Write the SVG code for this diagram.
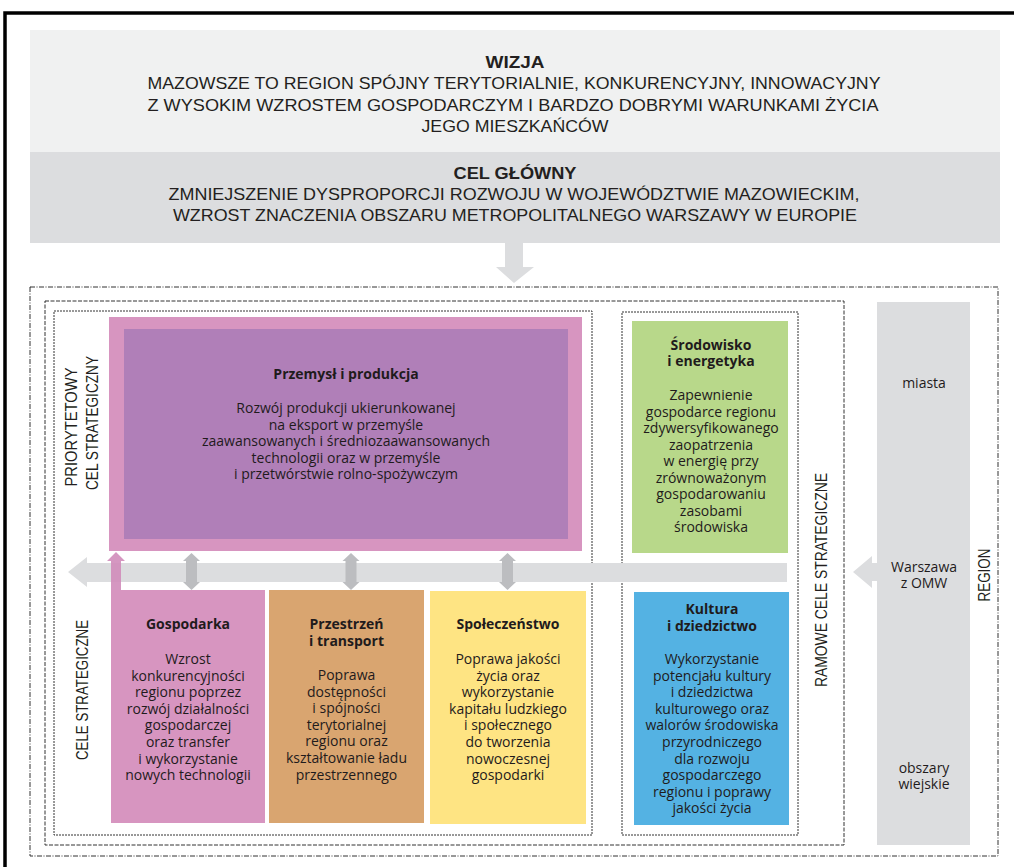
<svg xmlns="http://www.w3.org/2000/svg" width="1014" height="867" viewBox="0 0 1014 867">
<style>
.hd{font-family:"Liberation Sans","DejaVu Sans",sans-serif;font-size:17px;fill:#231f20;text-anchor:middle}
.hdb{font-weight:700}
.vt{font-family:"Liberation Sans","DejaVu Sans",sans-serif;font-size:16px;fill:#231f20;text-anchor:middle}
.bx{font-family:"Open Sans","Noto Sans",sans-serif;font-size:14px;fill:#1f1b1c;text-anchor:middle}
.tt{font-weight:700}
.dash{fill:none;stroke:#333333;stroke-width:1}
.band{fill:#dcdddf}
.dbl{fill:#bcbdc0}
</style>
<rect x="0" y="0" width="1014" height="867" fill="#ffffff"/>
<g id="frame">
<path d="M5,867 V13 H1014" fill="none" stroke="#000" stroke-width="3.5"/>
</g>
<g id="wizja">
<rect x="30" y="30" width="970" height="122" fill="#f0f1f1"/>
<text class="hd hdb" x="515" y="68" textLength="59" lengthAdjust="spacingAndGlyphs">WIZJA</text>
<text class="hd" x="514" y="89" textLength="733" lengthAdjust="spacingAndGlyphs">MAZOWSZE TO REGION SPÓJNY TERYTORIALNIE, KONKURENCYJNY, INNOWACYJNY</text>
<text class="hd" x="513" y="111" textLength="731" lengthAdjust="spacingAndGlyphs">Z WYSOKIM WZROSTEM GOSPODARCZYM I BARDZO DOBRYMI WARUNKAMI ŻYCIA</text>
<text class="hd" x="515" y="132" textLength="187" lengthAdjust="spacingAndGlyphs">JEGO MIESZKAŃCÓW</text>
</g>
<g id="cel-glowny">
<rect x="30" y="152" width="970" height="91" fill="#dcdddf"/>
<text class="hd hdb" x="515" y="179" textLength="123" lengthAdjust="spacingAndGlyphs">CEL GŁÓWNY</text>
<text class="hd" x="514" y="200" textLength="691" lengthAdjust="spacingAndGlyphs">ZMNIEJSZENIE DYSPROPORCJI ROZWOJU W WOJEWÓDZTWIE MAZOWIECKIM,</text>
<text class="hd" x="515" y="221" textLength="684" lengthAdjust="spacingAndGlyphs">WZROST ZNACZENIA OBSZARU METROPOLITALNEGO WARSZAWY W EUROPIE</text>
</g>
<g id="borders">
<rect class="dash" x="30" y="287" width="968" height="569" stroke-dasharray="5 1.5 1 1.5"/>
<rect class="dash" x="45" y="301" width="799" height="544" stroke-dasharray="4 1.5"/>
<rect class="dash" x="54" y="311" width="538" height="524" stroke-dasharray="2 1"/>
<rect class="dash" x="622" y="312" width="176" height="523" stroke-dasharray="2 1"/>
</g>
<g id="region-bar">
<rect x="877" y="302" width="93" height="543" fill="#dcdddf"/>
<text class="bx" x="924" y="388">miasta</text>
<text class="bx" x="924" y="572">Warszawa</text>
<text class="bx" x="924" y="588">z OMW</text>
<text class="bx" x="924" y="773">obszary</text>
<text class="bx" x="924" y="789">wiejskie</text>
</g>
<g id="labels">
<text class="vt" transform="translate(77,427) rotate(-90)" textLength="119" lengthAdjust="spacingAndGlyphs">PRIORYTETOWY</text>
<text class="vt" transform="translate(98,423) rotate(-90)" textLength="134" lengthAdjust="spacingAndGlyphs">CEL STRATEGICZNY</text>
<text class="vt" transform="translate(88,690) rotate(-90)" textLength="140" lengthAdjust="spacingAndGlyphs">CELE STRATEGICZNE</text>
<text class="vt" transform="translate(827,580) rotate(-90)" textLength="214" lengthAdjust="spacingAndGlyphs">RAMOWE CELE STRATEGICZNE</text>
<text class="vt" transform="translate(990,575) rotate(-90)" textLength="53" lengthAdjust="spacingAndGlyphs">REGION</text>
</g>
<g id="connectors">
<path d="M505,243 H523 V267 H534 L514,283 L496,267 H505 Z" class="band"/>
<path d="M68,572 L87,557 V563 H787 V582 H87 V587 Z" class="band"/>
<path d="M853,572 L872,556 V563 H878 V581 H872 V588 Z" class="band"/>
<path d="M191.5,553 L200,561 H197 V582 H200 L191.5,590 L183,582 H186 V561 H183 Z" class="dbl"/>
<path d="M351,553 L359.5,561 H356.5 V582 H359.5 L351,590 L342.5,582 H345.5 V561 H342.5 Z" class="dbl"/>
<path d="M507.5,553 L516,561 H513 V582 H516 L507.5,590 L499,582 H502 V561 H499 Z" class="dbl"/>
<path d="M111,591 V561 H107 L116,552 L125,561 H121 V591 Z" fill="#d08cba" fill-opacity="0.9"/>
</g>
<g id="przemysl">
<rect x="109" y="317" width="473" height="234" fill="#d795c0"/>
<rect x="124" y="329" width="444" height="210" fill="#b07fb8"/>
<text class="bx tt" x="346" y="379">Przemysł i produkcja</text>
<text class="bx" x="346" y="413">Rozwój produkcji ukierunkowanej</text>
<text class="bx" x="346" y="429.5">na eksport w przemyśle</text>
<text class="bx" x="346" y="446">zaawansowanych i średniozaawansowanych</text>
<text class="bx" x="346" y="462.5">technologii oraz w przemyśle</text>
<text class="bx" x="346" y="479">i przetwórstwie rolno-spożywczym</text>
</g>
<g id="gospodarka">
<rect x="111" y="590" width="154" height="233" fill="#d795c0"/>
<text class="bx tt" x="188" y="629">Gospodarka</text>
<text class="bx" x="188" y="664">Wzrost</text>
<text class="bx" x="188" y="680.6">konkurencyjności</text>
<text class="bx" x="188" y="697.2">regionu poprzez</text>
<text class="bx" x="188" y="713.8">rozwój działalności</text>
<text class="bx" x="188" y="730.4">gospodarczej</text>
<text class="bx" x="188" y="747">oraz transfer</text>
<text class="bx" x="188" y="763.6">i wykorzystanie</text>
<text class="bx" x="188" y="780.2">nowych technologii</text>
</g>
<g id="przestrzen">
<rect x="269" y="590" width="155" height="233" fill="#d9a570"/>
<text class="bx tt" x="346.5" y="629">Przestrzeń</text>
<text class="bx tt" x="346.5" y="646">i transport</text>
<text class="bx" x="346.5" y="680">Poprawa</text>
<text class="bx" x="346.5" y="696.6">dostępności</text>
<text class="bx" x="346.5" y="713.2">i spójności</text>
<text class="bx" x="346.5" y="729.8">terytorialnej</text>
<text class="bx" x="346.5" y="746.4">regionu oraz</text>
<text class="bx" x="346.5" y="763">kształtowanie ładu</text>
<text class="bx" x="346.5" y="779.6">przestrzennego</text>
</g>
<g id="spoleczenstwo">
<rect x="430" y="591" width="156" height="233" fill="#fee483"/>
<text class="bx tt" x="508" y="629">Społeczeństwo</text>
<text class="bx" x="508" y="664">Poprawa jakości</text>
<text class="bx" x="508" y="680.6">życia oraz</text>
<text class="bx" x="508" y="697.2">wykorzystanie</text>
<text class="bx" x="508" y="713.8">kapitału ludzkiego</text>
<text class="bx" x="508" y="730.4">i społecznego</text>
<text class="bx" x="508" y="747">do tworzenia</text>
<text class="bx" x="508" y="763.6">nowoczesnej</text>
<text class="bx" x="508" y="780.2">gospodarki</text>
</g>
<g id="srodowisko">
<rect x="632" y="321" width="156" height="232" fill="#b8d88a"/>
<text class="bx tt" x="711" y="350">Środowisko</text>
<text class="bx tt" x="711" y="366">i energetyka</text>
<text class="bx" x="711" y="400">Zapewnienie</text>
<text class="bx" x="711" y="416.5">gospodarce regionu</text>
<text class="bx" x="711" y="433">zdywersyfikowanego</text>
<text class="bx" x="711" y="449.5">zaopatrzenia</text>
<text class="bx" x="711" y="466">w energię przy</text>
<text class="bx" x="711" y="482.5">zrównoważonym</text>
<text class="bx" x="711" y="499">gospodarowaniu</text>
<text class="bx" x="711" y="515.5">zasobami</text>
<text class="bx" x="711" y="532">środowiska</text>
</g>
<g id="kultura">
<rect x="634" y="592" width="155" height="233" fill="#54b2e3"/>
<text class="bx tt" x="712" y="614">Kultura</text>
<text class="bx tt" x="712" y="631">i dziedzictwo</text>
<text class="bx" x="712" y="664">Wykorzystanie</text>
<text class="bx" x="712" y="680.6">potencjału kultury</text>
<text class="bx" x="712" y="697.2">i dziedzictwa</text>
<text class="bx" x="712" y="713.8">kulturowego oraz</text>
<text class="bx" x="712" y="730.4">walorów środowiska</text>
<text class="bx" x="712" y="747">przyrodniczego</text>
<text class="bx" x="712" y="763.6">dla rozwoju</text>
<text class="bx" x="712" y="780.2">gospodarczego</text>
<text class="bx" x="712" y="796.8">regionu i poprawy</text>
<text class="bx" x="712" y="813.4">jakości życia</text>
</g>
</svg>
